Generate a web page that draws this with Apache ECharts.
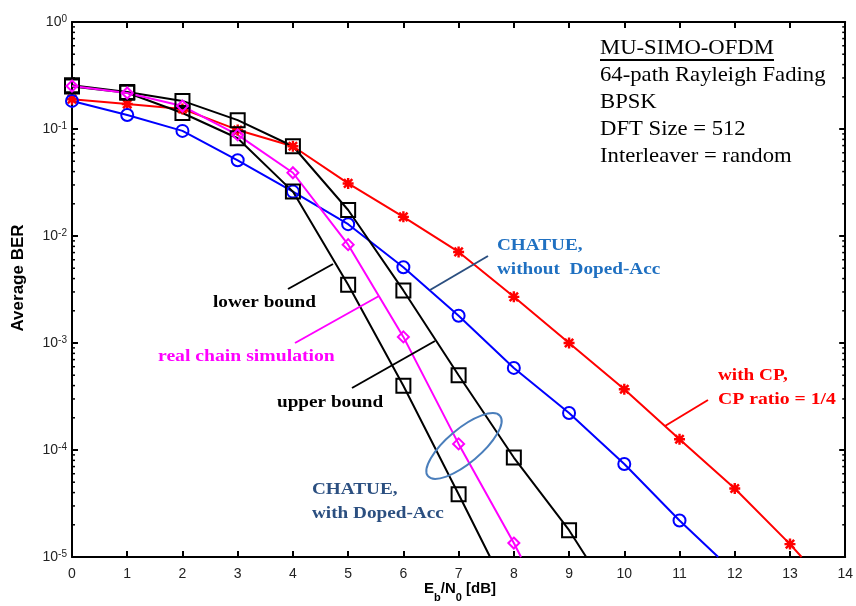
<!DOCTYPE html>
<html><head><meta charset="utf-8">
<script src="https://cdn.jsdelivr.net/npm/echarts@6/dist/echarts.min.js"></script>
<style>html,body{margin:0;padding:0;background:#fff}#c{width:856px;height:606px}</style>
</head><body><div id="c"></div>
<script>
// Eb/N0 [dB] sample points (integers from 0)
const xTicks = [0,1,2,3,4,5,6,7,8,9,10,11,12,13,14];
// with CP, CP ratio = 1/4  (red, asterisk)
const cpBER = [0.19,0.171,0.154,0.098,0.069,0.031,0.0151,0.0071,0.0027,0.001,3.7e-4,1.26e-4,4.37e-5,1.32e-5];
const cpTail = [13.21, 1e-5];
// CHATUE without Doped-Acc (blue, circle)
const noDopedBER = [0.183,0.135,0.096,0.051,0.026,0.0129,0.0051,0.0018,5.85e-4,2.22e-4,7.4e-5,2.19e-5];
const noDopedTail = [11.70, 1e-5];
// CHATUE with Doped-Acc: upper bound (black, square)
const upperBER = [0.257,0.222,0.183,0.121,0.069,0.0175,0.0031,5.0e-4,8.5e-5,1.78e-5];
const upperTail = [9.31, 1e-5];
// CHATUE with Doped-Acc: lower bound (black, square)
const lowerBER = [0.25,0.218,0.141,0.082,0.026,0.0035,3.98e-4,3.86e-5];
const lowerTail = [7.57, 1e-5];
// real chain simulation (magenta, diamond)
const realBER = [0.252,0.217,0.164,0.088,0.039,0.0083,1.14e-3,1.14e-4,1.35e-5];
const realTail = [8.13, 1e-5];
// minor log ticks
const minorTicks = [];
for (let d = -5; d < 0; d++) for (let m = 2; m <= 9; m++) minorTicks.push(m * Math.pow(10, d));

const chart = echarts.init(document.getElementById('c'), null, {renderer: 'canvas'});
const asterisk = 'path://M3.9 0h2.2v10h-2.2z M0 3.9h10v2.2h-10z M2 0.4L9.6 8L8 9.6L0.4 2z M8 0.4L9.6 2L2 9.6L0.4 8z M3 3h4v4h-4z';

function mk(name, ys, tail, color, symbol, size, fillSym) {
  const data = ys.map((v, i) => [xTicks[i], v]);
  data.push({value: tail, symbol: 'none'});
  return {
    name, type: 'line', data, symbol, symbolSize: size, showAllSymbol: true,
    lineStyle: {color, width: 2}, clip: true,
    itemStyle: fillSym ? {color, borderWidth: 0} : {color: 'rgba(0,0,0,0)', borderColor: color, borderWidth: 2},
    emphasis: {disabled: true}, z: 3
  };
}

const axisTxt = {fontFamily: '"Liberation Sans", Arial', fontSize: 14, color: '#222'};
const supFmt = v => { const e = Math.round(Math.log10(v)); return '{b|10}{s|' + e + '}'; };

const option = {
  animation: false,
  backgroundColor: '#fff',
  grid: {left: 72, right: 10, top: 22, bottom: 49, containLabel: false},
  xAxis: [
    {type: 'value', min: 0, max: 14, interval: 1, position: 'bottom',
     axisLine: {show: true, onZero: false, lineStyle: {color: '#000', width: 2}},
     axisTick: {show: true, inside: true, length: 6, lineStyle: {color: '#000', width: 2}},
     axisLabel: Object.assign({margin: 10}, axisTxt), splitLine: {show: false}},
    {type: 'value', min: 0, max: 14, interval: 1, position: 'top',
     axisLine: {show: true, onZero: false, lineStyle: {color: '#000', width: 2}},
     axisTick: {show: true, inside: true, length: 6, lineStyle: {color: '#000', width: 2}},
     axisLabel: {show: false}, splitLine: {show: false}}
  ],
  yAxis: [
    {type: 'log', logBase: 10, min: 1e-5, max: 1, position: 'left',
     axisLine: {show: true, onZero: false, lineStyle: {color: '#000', width: 2}},
     axisTick: {show: true, inside: true, length: 6, lineStyle: {color: '#000', width: 2}},
     axisLabel: {margin: 5, formatter: supFmt, rich: {
       b: {fontFamily: '"Liberation Sans", Arial', fontSize: 14, color: '#222', lineHeight: 15, verticalAlign: 'bottom', padding: [4, 0, 0, 0]},
       s: {fontFamily: '"Liberation Sans", Arial', fontSize: 10, color: '#222', lineHeight: 10, verticalAlign: 'top'}}},
     splitLine: {show: false}},
    {type: 'log', logBase: 10, min: 1e-5, max: 1, position: 'right',
     axisLine: {show: true, onZero: false, lineStyle: {color: '#000', width: 2}},
     axisTick: {show: true, inside: true, length: 6, lineStyle: {color: '#000', width: 2}},
     axisLabel: {show: false}, splitLine: {show: false}}
  ],
  series: [
    {type: 'custom', name: 'minor', data: minorTicks.map(v => [0, v]), silent: true, z: 1,
     renderItem: (params, api) => {
       const v = api.value(1);
       const l = api.coord([0, v]);
       const r = api.coord([14, v]);
       return {type: 'group', children: [
         {type: 'line', shape: {x1: l[0], y1: l[1], x2: l[0] + 3, y2: l[1]}, style: {stroke: '#000', lineWidth: 1.5}},
         {type: 'line', shape: {x1: r[0], y1: r[1], x2: r[0] - 3, y2: r[1]}, style: {stroke: '#000', lineWidth: 1.5}}
       ]};
     }},
    mk('with CP', cpBER, cpTail, '#ff0000', asterisk, 11, true),
    mk('without Doped-Acc', noDopedBER, noDopedTail, '#0000ff', 'circle', 12, false),
    mk('upper bound', upperBER, upperTail, '#000000', 'rect', 14, false),
    mk('lower bound', lowerBER, lowerTail, '#000000', 'rect', 14, false),
    mk('real chain simulation', realBER, realTail, '#ff00ff', 'diamond', 11, false)
  ]
};
chart.setOption(option);

// annotations
const serifB = 'bold 16px "Liberation Serif", "Times New Roman", serif';
const serif = '21px "Liberation Serif", "Times New Roman", serif';
function label(x, y, text, color, sx) {
  return {type: 'text', x, y, scaleX: sx || 1.2, z: 10,
    style: {text, fill: color, font: serifB, verticalAlign: 'middle'}};
}
function seg(x1, y1, x2, y2, color) {
  return {type: 'line', z: 9, shape: {x1, y1, x2, y2}, style: {stroke: color, lineWidth: 2}};
}
const infoLines = ['64-path Rayleigh Fading', 'BPSK', 'DFT Size = 512', 'Interleaver = random'];
const graphics = [
  {type: 'text', x: 600, y: 48, scaleX: 1.08, z: 10, style: {text: 'MU-SIMO-OFDM', fill: '#000', font: serif, verticalAlign: 'middle'}},
  seg(600, 60, 774, 60, '#000'),
  ...infoLines.map((t, i) => ({type: 'text', x: 600, y: 75 + i * 27, scaleX: 1.08, z: 10,
      style: {text: t, fill: '#000', font: serif, verticalAlign: 'middle'}})),
  // CHATUE without Doped-Acc
  label(497, 246, 'CHATUE,', '#1f70c1'),
  label(497, 270, 'without  Doped-Acc', '#1f70c1'),
  seg(430, 290, 488, 256, '#2b4f80'),
  // lower bound
  label(213, 303, 'lower bound', '#000'),
  seg(288, 289, 333, 264, '#000'),
  // real chain simulation
  label(158, 357, 'real chain simulation', '#ff00ff', 1.23),
  seg(295, 343, 379, 296, '#ff00ff'),
  // upper bound
  label(277, 403, 'upper bound', '#000'),
  seg(352, 388, 435, 341, '#000'),
  // ellipse
  {type: 'ellipse', x: 464, y: 446, rotation: 40 * Math.PI / 180, z: 9,
   shape: {cx: 0, cy: 0, rx: 47, ry: 17}, style: {fill: 'none', stroke: '#4a7ebb', lineWidth: 2}},
  // CHATUE with Doped-Acc
  label(312, 490, 'CHATUE,', '#2b4f80'),
  label(312, 514, 'with Doped-Acc', '#2b4f80'),
  // with CP
  label(718, 376, 'with CP,', '#ff0000'),
  label(718, 400, 'CP ratio = 1/4', '#ff0000', 1.23),
  seg(665, 426, 708, 400, '#ff0000'),
  // axis names
  {type: 'text', x: 18, y: 278, rotation: Math.PI / 2, z: 10,
   style: {text: 'Average BER', fill: '#000', font: 'bold 17px "Liberation Sans", Arial', align: 'center', verticalAlign: 'middle'}},
  {type: 'text', x: 460, y: 592, z: 10,
   style: {text: '{a|E}{s|b}{a|/N}{s|0}{a| [dB]}', align: 'center', verticalAlign: 'middle',
     rich: {a: {fontFamily: '"Liberation Sans", Arial', fontWeight: 'bold', fontSize: 15, fill: '#000', color: '#000', lineHeight: 22, verticalAlign: 'top'},
            s: {fontFamily: '"Liberation Sans", Arial', fontWeight: 'bold', fontSize: 11, fill: '#000', color: '#000', lineHeight: 22, verticalAlign: 'bottom'}}}}
];
chart.setOption({graphic: graphics});
</script>
</body></html>
